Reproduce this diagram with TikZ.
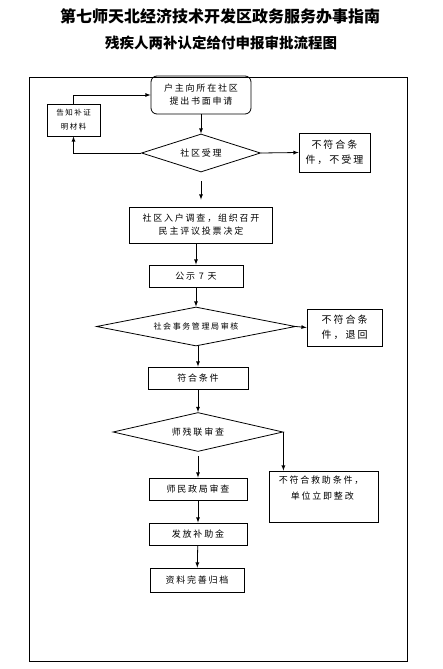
\documentclass[tikz,border=0pt]{standalone}
\usepackage{fontspec}
\usepackage{tikz}
\usetikzlibrary{shapes.geometric}

\newfontfamily\cjk[LetterSpace=20]{Noto Sans CJK SC}
\newfontfamily\cjktitle{Noto Sans CJK SC}

\begin{document}
\begin{tikzpicture}[x=1pt, y=-1pt, >=latex,
    box/.style={draw, line width=0.8pt, inner sep=0pt, align=center,
        font=\cjk\fontsize{9}{13}\selectfont},
    check/.style={draw, diamond, line width=0.8pt, inner sep=0pt, align=center,
        font=\cjk\fontsize{9}{13}\selectfont},
    flow/.style={->, line width=0.8pt}]
        \useasboundingbox (0,0) rectangle (443,669);

        % Titles
        \node[font=\cjktitle\bfseries\fontsize{16}{18}\selectfont] (title) at (220,16) {第七师天北经济技术开发区政务服务办事指南};
        \node[font=\cjktitle\bfseries\fontsize{14.5}{16}\selectfont] (subtitle) at (221,43) {残疾人两补认定给付申报审批流程图};

        % Outer frame
        \draw[line width=1pt] (29,77) rectangle (407,661);

        % Application and community check
        \node[box, rounded corners=6pt, minimum width=100pt, minimum height=38pt] (apply) at (201,95) {户主向所在社区\\提出书面申请};
        \node[box, minimum width=53pt, minimum height=32pt, font=\cjk\fontsize{7.5}{14}\selectfont] (notify) at (73.5,120) {告知补证\\明材料};
        \node[check, shape aspect=3, minimum width=119pt, minimum height=38pt] (accept) at (201,153) {社区受理};
        \node[box, minimum width=71pt, minimum height=39pt, font=\cjk\fontsize{10}{15}\selectfont] (refuse) at (334.5,152.5) {不符合条\\件，不受理};

        \draw[flow] (apply) -- (accept);
        \draw[flow] (notify.north) |- (apply.west);
        \draw[flow] (accept.west) -| (notify.south);
        \draw[flow] (accept.east) -- (refuse.west);

        % Survey, notice and bureau check
        \node[box, minimum width=143pt, minimum height=36pt] (survey) at (201,225) {社区入户调查，组织召开\\民主评议投票决定};
        \node[box, minimum width=94pt, minimum height=22pt] (notice) at (196,276) {公示 7 天};
        \node[check, shape aspect=5, minimum width=199pt, minimum height=39pt, font=\cjk\fontsize{8}{12}\selectfont] (review) at (196,326.5) {社会事务管理局审核};
        \node[box, minimum width=75pt, minimum height=37pt, font=\cjk\fontsize{10}{15}\selectfont] (returned) at (344.5,327.5) {不符合条\\件，退回};

        \draw[flow, shorten <=9pt, shorten >=7pt] (accept) -- (survey);
        \draw[flow] (survey.south -| notice.north) -- (notice.north);
        \draw[flow] (notice) -- (review);
        \draw[flow] (review.east) -- (returned.west);

        % Federation check and payment
        \node[box, minimum width=100pt, minimum height=22pt] (qualify) at (198,378) {符合条件};
        \node[check, shape aspect=4.4, minimum width=170pt, minimum height=39pt] (federation) at (198,432) {师残联审查};
        \node[box, minimum width=109pt, minimum height=51pt,
            label={[anchor=north west, inner sep=0pt, yshift=-5pt, align=left, font=\cjk\fontsize{9}{16}\selectfont]north west:{\hspace*{10pt}不符合救助条件，\\\hspace*{22pt}单位立即整改}}] (rectify) at (323.5,496.5) {};
        \node[box, minimum width=98pt, minimum height=22pt] (civil) at (198,489) {师民政局审查};
        \node[box, minimum width=98pt, minimum height=22pt] (subsidy) at (198,534) {发放补助金};
        \node[box, minimum width=94pt, minimum height=24pt] (archive) at (197,580) {资料完善归档};

        \draw[flow] (review.south -| qualify.north) -- (qualify.north);
        \draw[flow] (qualify) -- (federation);
        \draw[flow] (federation.east) -- (federation.east |- rectify.north);
        \draw[flow, shorten <=4pt] (federation) -- (civil);
        \draw[flow] (civil) -- (subsidy);
        \draw[flow] (subsidy) -- (archive);

    \end{tikzpicture}
\end{document}
